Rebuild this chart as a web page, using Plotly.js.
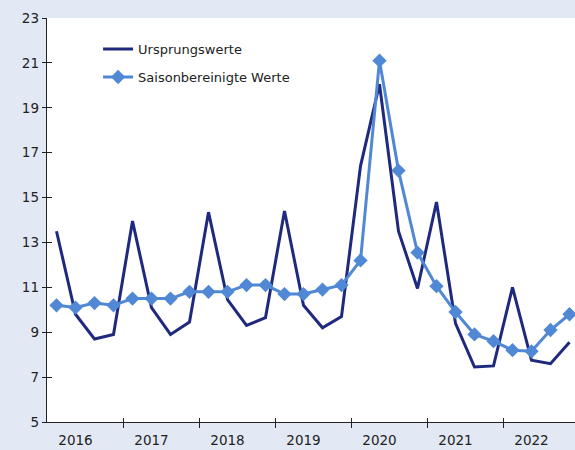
<!DOCTYPE html>
<html><head><meta charset="utf-8">
<script src="https://cdn.plot.ly/plotly-3.0.1.min.js"></script>
<style>html,body{margin:0;padding:0;overflow:hidden;background:#E2E9F5;}#chart{width:580px;height:450px;}</style>
</head><body><div id="chart"></div>
<script>
const years = ['2016','2017','2018','2019','2020','2021','2022'];
const quarters = ['Q1','Q2','Q3','Q4'];
const ursprungswerte = [13.5,9.8,8.7,8.9, 13.95,10.1,8.9,9.45, 14.35,10.45,9.3,9.65, 14.4,10.2,9.2,9.7, 16.4,20.05,13.5,10.95, 14.8,9.4,7.45,7.5, 11.0,7.75,7.6,8.55];
const saisonbereinigt = [10.2,10.1,10.3,10.2, 10.5,10.5,10.5,10.8, 10.8,10.8,11.1,11.1, 10.7,10.7,10.9,11.1, 12.2,21.1,16.2,12.55, 11.05,9.9,8.9,8.6, 8.2,8.15,9.1,9.8];
const yTicks = [5,7,9,11,13,15,17,19,21,23];

const idx = ursprungswerte.map((_, i) => i);
const nQ = quarters.length;
const xRange = [-0.5, years.length * nQ - 0.5];
const bounds = years.slice(1).map((_, i) => (i + 1) * nQ - 0.5);
// year labels sit under the second quarter of each year
const labelPos = years.map((_, i) => i * nQ + 1);

const font = {family: '"DejaVu Sans", sans-serif', size: 13.5, color: '#222'};

const dummy = (xa, ya) => ({x: [], y: [], type: 'scatter', mode: 'lines', xaxis: xa, yaxis: ya,
  showlegend: false, hoverinfo: 'skip'});

const traces = [
  {x: idx, y: ursprungswerte, type: 'scatter', mode: 'lines', name: 'Ursprungswerte', legendgroup: 'a',
   line: {color: '#1F2A7E', width: 3}},
  {x: idx, y: saisonbereinigt, type: 'scatter', mode: 'lines+markers', name: 'Saisonbereinigte Werte', legendgroup: 'b',
   line: {color: '#5088D6', width: 3}, marker: {symbol: 'diamond', size: 11, color: '#5088D6'}},
  dummy('x2', 'y'), dummy('x3', 'y'), dummy('x', 'y2')
];

const layout = {
  width: 580, height: 450,
  margin: {l: 47, r: 1, t: 18, b: 28},
  paper_bgcolor: '#E2E9F5', plot_bgcolor: '#FFFFFF',
  font: font,
  showlegend: true,
  legend: {x: 0.096, y: 0.96, xanchor: 'left', yanchor: 'top', bgcolor: 'rgba(0,0,0,0)',
           traceorder: 'grouped', tracegroupgap: 8,
           font: {family: font.family, size: 13, color: '#222'}},
  xaxis: {range: xRange, tickvals: bounds, ticktext: bounds.map(() => ''), ticks: 'outside', ticklen: 5,
          tickcolor: '#222', showline: true, linecolor: '#222', linewidth: 1.3, showgrid: false, zeroline: false},
  xaxis2: {overlaying: 'x', anchor: 'y', side: 'bottom', range: xRange, tickvals: bounds, ticks: 'inside', ticklen: 4,
           tickcolor: '#222', showticklabels: false, showline: false, showgrid: false, zeroline: false},
  xaxis3: {overlaying: 'x', anchor: 'y', side: 'bottom', range: xRange, tickvals: labelPos, ticktext: years,
           ticks: '', ticklabelstandoff: 8, showline: false, showgrid: false, zeroline: false, tickfont: font},
  yaxis: {range: [5, 23], tickvals: yTicks, ticks: 'outside', ticklen: 4, tickcolor: '#222',
          showline: true, linecolor: '#222', linewidth: 1.3, showgrid: false, zeroline: false, tickfont: font},
  yaxis2: {overlaying: 'y', anchor: 'x', side: 'left', range: [5, 23], tickvals: yTicks, ticks: 'inside', ticklen: 5,
           tickcolor: '#222', showticklabels: false, showline: false, showgrid: false, zeroline: false}
};

Plotly.newPlot('chart', traces, layout, {displayModeBar: false, staticPlot: true});
</script></body></html>
